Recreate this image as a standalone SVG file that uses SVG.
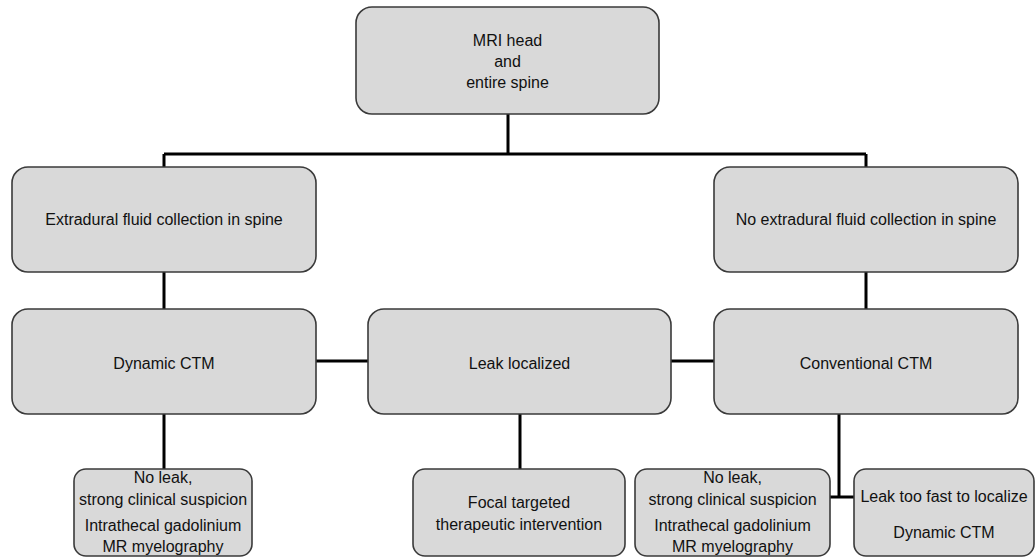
<svg xmlns="http://www.w3.org/2000/svg" width="1036" height="557" viewBox="0 0 1036 557">
<style>
.box{fill:#d9d9d9;stroke:#3a3a3a;stroke-width:1.6}
.lbl{font-family:"Liberation Sans",Arial,sans-serif;font-size:16px;fill:#111;text-anchor:middle}
.con{stroke:#000;stroke-width:3;fill:none}
</style>
<rect width="1036" height="557" fill="#fff"/>
<g id="connectors">
<path class="con" d="M508 114V154M164 154H866M164 154V167M866 154V167"/>
<path class="con" d="M164 272V309M866 272V309"/>
<path class="con" d="M316 361H368M671 361H714"/>
<path class="con" d="M164 414V469M520 414V469M839 414V497M830 497H854"/>
</g>
<g id="n-mri">
<rect class="box" x="356" y="7" width="303" height="107" rx="16"/>
<text class="lbl" x="507.5" y="46">MRI head</text>
<text class="lbl" x="507.5" y="67">and</text>
<text class="lbl" x="507.5" y="88">entire spine</text>
</g>
<g id="n-extradural">
<rect class="box" x="12" y="167" width="304" height="105" rx="16"/>
<text class="lbl" x="164" y="225">Extradural fluid collection in spine</text>
</g>
<g id="n-noextradural">
<rect class="box" x="714" y="167" width="304" height="105" rx="16"/>
<text class="lbl" x="866" y="225">No extradural fluid collection in spine</text>
</g>
<g id="n-dynamic">
<rect class="box" x="12" y="309" width="304" height="105" rx="16"/>
<text class="lbl" x="164" y="369">Dynamic CTM</text>
</g>
<g id="n-leak">
<rect class="box" x="368" y="309" width="303" height="105" rx="16"/>
<text class="lbl" x="519.5" y="369">Leak localized</text>
</g>
<g id="n-conventional">
<rect class="box" x="714" y="309" width="304" height="105" rx="16"/>
<text class="lbl" x="866" y="369">Conventional CTM</text>
</g>
<g id="n-noleak1">
<rect class="box" x="74" y="469" width="178" height="87" rx="12"/>
<text class="lbl" x="163" y="483">No leak,</text>
<text class="lbl" x="163" y="505">strong clinical suspicion</text>
<text class="lbl" x="163" y="531">Intrathecal gadolinium</text>
<text class="lbl" x="163" y="552">MR myelography</text>
</g>
<g id="n-focal">
<rect class="box" x="413" y="469" width="212" height="87" rx="12"/>
<text class="lbl" x="519" y="508">Focal targeted</text>
<text class="lbl" x="519" y="530">therapeutic intervention</text>
</g>
<g id="n-noleak2">
<rect class="box" x="635" y="469" width="195" height="87" rx="12"/>
<text class="lbl" x="732.5" y="483">No leak,</text>
<text class="lbl" x="732.5" y="505">strong clinical suspicion</text>
<text class="lbl" x="732.5" y="531">Intrathecal gadolinium</text>
<text class="lbl" x="732.5" y="552">MR myelography</text>
</g>
<g id="n-toofast">
<rect class="box" x="854" y="469" width="180" height="87" rx="12"/>
<text class="lbl" x="944" y="502">Leak too fast to localize</text>
<text class="lbl" x="944" y="538">Dynamic CTM</text>
</g>
</svg>
